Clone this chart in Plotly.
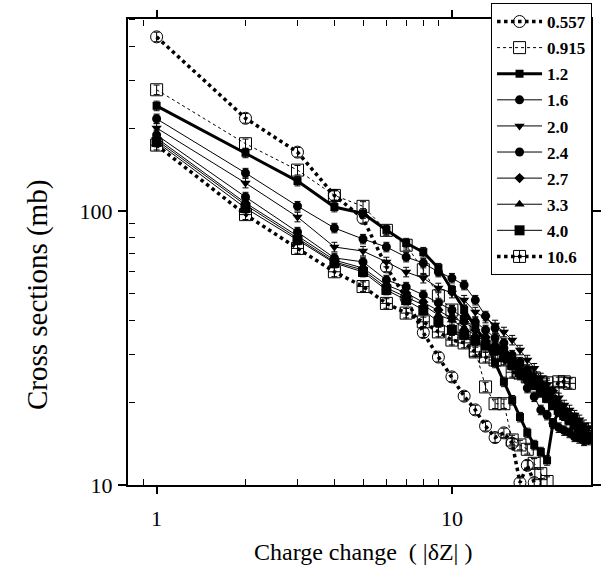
import plotly.graph_objects as go

# ---- data ----
energies = ["0.557", "0.915", "1.2", "1.6", "2.0", "2.4", "2.7", "3.3", "4.0", "10.6"]

x_0557 = list(range(1, 20))
y_0557 = [432, 218, 164, 114, 94, 62.5, 48, 36, 29.3, 24.8, 21.1, 18.8, 16.4, 14.9, 15.5, 14.2, 10.2, 11.8, 10.2]

x_0915 = list(range(1, 22))
y_0915 = [277, 176, 141, 114, 104, 85, 75, 61, 49, 43.5, 37, 31, 22.8, 19.8, 19.8, 14.6, 14.0, 13.5, 12.0, 11.0, 10.3]

x_12 = list(range(1, 30))
y_12 = [242, 163, 128.6, 103.4, 98, 85.3, 76.4, 70.8, 61.9, 51.5, 43.5, 37.7, 33.3, 27.9, 23.8,
        20.4, 17.7, 15.5, 14.0, 13.2, 12.3, 16.8, 18.5, 18.0, 17.3, 17.6, 16.6, 15.9, 15.2]

x_16 = list(range(1, 29))
y_16 = [217, 137.6, 104.2, 86.7, 79.0, 73.9, 67.9, 64.6, 59.9, 56.9, 53.7, 47.3, 41.4, 37.4, 33.0,
        28.6, 25.2, 22.6, 21.0, 18.8, 18.0, 16.8, 16.2, 15.8, 15.5, 15.0, 14.8, 14.5]

x_20 = list(range(1, 30))
y_20 = [201, 126.5, 95.1, 73.9, 71.4, 65.2, 59.9, 56.9, 52.4, 50.2, 47.3, 42.8, 40.7, 38.4, 36.2,
        33.8, 31.1, 28.6, 26.7, 24.6, 23.2, 21.8, 20.8, 19.6, 18.8, 18.0, 17.3, 16.6, 16.2]

x_24 = list(range(1, 30))
y_24 = [189.4, 112.5, 83.8, 67.4, 65.2, 56, 52.8, 49.4, 46.2, 43.5, 40.7, 39.4, 36.8, 34.4, 31.6,
        29.8, 28.1, 26.3, 24.6, 23.2, 21.8, 20.4, 19.6, 18.5, 17.6, 16.6, 15.9, 15.1, 14.6]

x_27 = list(range(1, 29))
y_27 = [184.7, 107, 81.1, 66.2, 61.9, 53.7, 50.2, 46.5, 43.5, 40.7, 39.4, 36.8, 34.7, 32.4, 30.6,
        29.1, 27.4, 25.8, 24.2, 22.8, 21.3, 20.1, 19.1, 18.3, 17.6, 17.0, 16.2, 15.6]

x_33 = list(range(1, 29))
y_33 = [181.6, 105.2, 79.6, 65.2, 60.9, 52.4, 48.5, 45.4, 41.7, 40.0, 37.4, 35.3, 33.3, 31.6, 29.8,
        28.1, 26.7, 25.2, 23.8, 22.2, 21.0, 19.8, 18.8, 17.9, 17.3, 16.4, 15.9, 15.2]

x_40 = list(range(1, 29))
y_40 = [178.6, 102.5, 78.4, 64.6, 59.9, 51.5, 47.3, 43.5, 39.4, 36.8, 35.3, 33.8, 32.4, 31.1, 29.3,
        27.4, 25.8, 24.6, 23.2, 21.8, 20.8, 19.6, 18.8, 18.0, 17.3, 16.7, 16.2, 15.5]

x_106 = list(range(1, 26))
y_106 = [174, 97, 73, 60, 53, 46, 42.4, 39.4, 36.2, 33.8, 33.0, 30.6, 29.3, 28.6, 28.6,
         25.8, 25.6, 24.8, 24.6, 23.8, 23.6, 21.8, 23.8, 23.8, 23.5]

xs = [x_0557, x_0915, x_12, x_16, x_20, x_24, x_27, x_33, x_40, x_106]
ys = [y_0557, y_0915, y_12, y_16, y_20, y_24, y_27, y_33, y_40, y_106]

x_major = [1, 10]
x_minor = [0.9, 2, 3, 4, 5, 6, 7, 8, 9, 20]
y_major = [10, 100]
y_minor = [20, 30, 40, 50, 60, 70, 80, 90, 200, 300, 400, 500]

x_range = [-0.0969, 1.471]
y_range = [1, 2.7007]

# ---- styles ----
styles = [
    dict(line=dict(width=3.5, dash="dot"), marker=dict(symbol="circle-open", size=12, line=dict(width=1))),
    dict(line=dict(width=1, dash="dot"), marker=dict(symbol="square-open", size=12, line=dict(width=1))),
    dict(line=dict(width=3), marker=dict(symbol="square", size=8)),
    dict(line=dict(width=1), marker=dict(symbol="circle", size=9)),
    dict(line=dict(width=1), marker=dict(symbol="triangle-down", size=9)),
    dict(line=dict(width=1), marker=dict(symbol="circle", size=9)),
    dict(line=dict(width=1), marker=dict(symbol="diamond", size=8)),
    dict(line=dict(width=1), marker=dict(symbol="triangle-up", size=9)),
    dict(line=dict(width=1), marker=dict(symbol="square", size=10)),
    dict(line=dict(width=3.5, dash="dot"), marker=dict(symbol="square-cross-open", size=12, line=dict(width=1))),
]

fig = go.Figure()
for name, x, y, st in zip(energies, xs, ys, styles):
    line = dict(color="black", **st["line"])
    marker = dict(color="black", **st["marker"])
    if "line" in marker:
        marker["line"] = dict(color="black", **marker["line"])
    fig.add_trace(go.Scatter(
        x=x, y=y, name=name, mode="lines+markers",
        line=line, marker=marker, legendgroup=name,
        error_y=dict(type="percent", value=4, color="black", thickness=1, width=3),
    ))

serif = "Liberation Serif, Times New Roman, serif"

minor_x = dict(type="log", range=x_range, overlaying="x", anchor="free",
               tickmode="array", tickvals=x_minor, ticks="outside", ticklen=6,
               tickwidth=1.3, tickcolor="black", showticklabels=False,
               showline=False, showgrid=False, zeroline=False)
minor_y = dict(type="log", range=y_range, overlaying="y", anchor="free",
               tickmode="array", tickvals=y_minor, ticks="outside", ticklen=6,
               tickwidth=1.3, tickcolor="black", showticklabels=False,
               showline=False, showgrid=False, zeroline=False)

fig.update_layout(
    width=610, height=572,
    margin=dict(l=128, r=19, t=19, b=87, autoexpand=False),
    paper_bgcolor="white", plot_bgcolor="white",
    font=dict(family=serif, color="black", size=20),
    legend=dict(
        xref="container", yref="container",
        x=0.805, y=0.9948, xanchor="left", yanchor="top",
        bgcolor="white", bordercolor="black", borderwidth=1,
        font=dict(family=serif, size=17, color="black", weight="bold"),
        itemwidth=45, tracegroupgap=1,
    ),
    showlegend=True,
    xaxis=dict(
        type="log", range=x_range,
        tickmode="array", tickvals=x_major, ticktext=[str(v) for v in x_major],
        ticks="outside", ticklen=7, tickwidth=1.5, tickcolor="black",
        showline=True, linewidth=2, linecolor="black", mirror="ticks",
        showgrid=False, zeroline=False, ticklabelstandoff=6,
        tickfont=dict(family=serif, size=22, color="black"),
    ),
    yaxis=dict(
        type="log", range=y_range,
        tickmode="array", tickvals=y_major, ticktext=[str(v) for v in y_major],
        ticks="outside", ticklen=8, tickwidth=1.5, tickcolor="black",
        showline=True, linewidth=2, linecolor="black", mirror="ticks",
        showgrid=False, zeroline=False, ticklabelstandoff=1,
        tickfont=dict(family=serif, size=22, color="black"),
    ),
    # free overlay axes whose "outside" ticks point into the frame (minor ticks)
    xaxis2=dict(minor_x, side="top", position=0),
    xaxis3=dict(minor_x, side="bottom", position=1),
    yaxis2=dict(minor_y, side="right", position=0),
    yaxis3=dict(minor_y, side="left", position=1),
)

# invisible helper traces so the overlay axes are drawn
for xa, ya in [("x2", "y"), ("x3", "y"), ("x", "y2"), ("x", "y3")]:
    fig.add_trace(go.Scatter(x=[x_major[0]], y=[y_major[0]], xaxis=xa, yaxis=ya,
                             mode="markers", marker=dict(opacity=0), showlegend=False,
                             hoverinfo="skip"))

fig.add_annotation(
    text="Cross sections (mb)", xref="paper", yref="paper",
    x=-0.194, y=0.408, xanchor="center", yanchor="middle",
    textangle=-90, showarrow=False,
    font=dict(family=serif, size=29, color="black"),
)
fig.add_annotation(
    text="Charge change  ( |δZ| )", xref="paper", yref="paper",
    x=0.508, y=-0.1438, xanchor="center", yanchor="middle", showarrow=False,
    font=dict(family=serif, size=24, color="black"),
)

fig.write_html("out.html")
